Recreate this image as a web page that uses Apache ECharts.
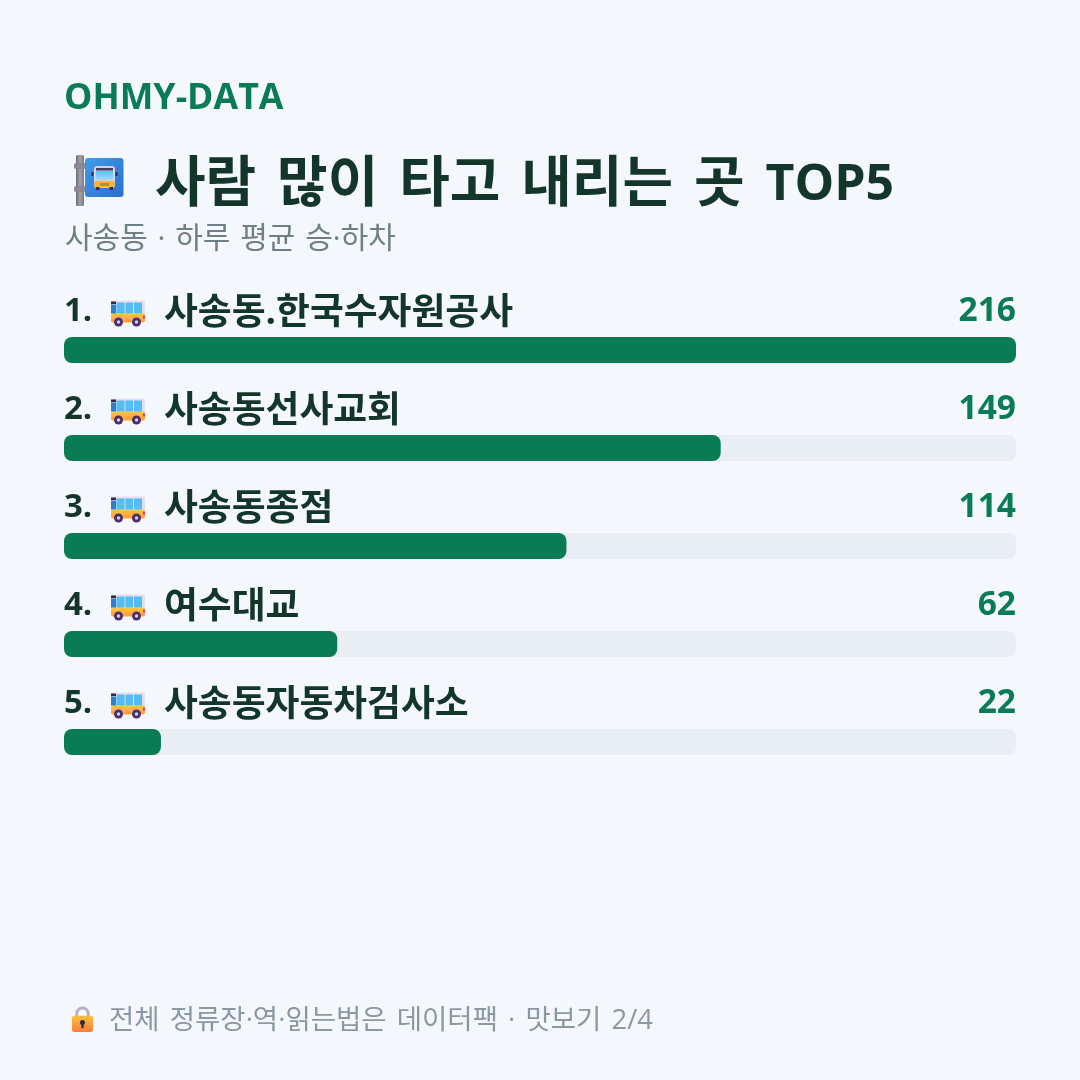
<!DOCTYPE html>
<html lang="ko">
<head>
<meta charset="utf-8">
<script src="https://cdn.jsdelivr.net/npm/echarts@6/dist/echarts.min.js"></script>
<style>
  html, body { margin: 0; padding: 0; background: #f4f7fc; }
  #chart { width: 1080px; height: 1080px; }
</style>
</head>
<body>
<div id="chart"></div>
<script>
// 사송동 정류장별 하루 평균 승·하차
const stops = ['사송동.한국수자원공사', '사송동선사교회', '사송동종점', '여수대교', '사송동자동차검사소'];
const riders = [216, 149, 114, 62, 22];
const axisMax = 216;

const brandText = 'OHMY-DATA';
const titleText = '사람 많이 타고 내리는 곳 TOP5';
const subtitleText = '사송동 · 하루 평균 승·하차';
const footerText = '전체 정류장·역·읽는법은 데이터팩 · 맛보기 2/4';

const fontFamily = '"Open Sans", "Noto Sans CJK KR", sans-serif';

const svgUri = s => 'data:image/svg+xml;charset=utf-8,' + encodeURIComponent(s);

// Splits a line at its spaces so each gap can be widened through rich-text padding
function spacedText(text, extra, tokenStyle, lastWordSize) {
  const words = text.split(' ');
  const last = Object.assign({}, tokenStyle);
  if (lastWordSize) last.fontSize = lastWordSize;
  return {
    text: words.map((w, i) => (i < words.length - 1 ? `{w|${w} }` : `{e|${w}}`)).join(''),
    rich: {
      w: Object.assign({ padding: [0, extra, 0, 0] }, tokenStyle),
      e: last
    }
  };
}

// Bus stop sign: a grey pole with a blue plate carrying a front-view bus
const stopIcon = svgUri(`<svg xmlns="http://www.w3.org/2000/svg" width="52" height="52" viewBox="0 0 52 52">
  <defs>
    <linearGradient id="p" x1="0" x2="1"><stop offset="0" stop-color="#6f6a78"/><stop offset=".5" stop-color="#a5a1ad"/><stop offset="1" stop-color="#7d7886"/></linearGradient>
    <linearGradient id="b" x1="0" x2="1" y1="0" y2="1"><stop offset="0" stop-color="#3f9cea"/><stop offset="1" stop-color="#2a6fcb"/></linearGradient>
    <linearGradient id="g" x1="0" x2="0" y1="0" y2="1"><stop offset="0" stop-color="#4fc3f7"/><stop offset="1" stop-color="#a8d8fb"/></linearGradient>
  </defs>
  <rect x="4" y="0" width="8" height="51" rx="1.5" fill="url(#p)"/>
  <rect x="2" y="8" width="12" height="6" rx="2" fill="#8b8794"/>
  <rect x="2" y="31" width="12" height="6" rx="2" fill="#8b8794"/>
  <rect x="13" y="3" width="38.5" height="39" rx="3" fill="url(#b)"/>
  <rect x="22" y="11" width="21" height="22" rx="3" fill="#d9cfe6"/>
  <rect x="24" y="13" width="17" height="2.5" fill="#4a3a5e"/>
  <rect x="24" y="16" width="17" height="9" fill="url(#g)"/>
  <rect x="22.5" y="26" width="20" height="6.5" rx="1.5" fill="#f2b632"/>
  <rect x="28" y="28" width="9" height="3" fill="#b98a3a"/>
  <rect x="24" y="32" width="3.5" height="3" fill="#3a2d4a"/>
  <rect x="37.5" y="32" width="3.5" height="3" fill="#3a2d4a"/>
  <rect x="19.5" y="17" width="2" height="4" fill="#3a2d4a"/>
  <rect x="43.5" y="17" width="2" height="4" fill="#3a2d4a"/>
</svg>`);

// Side-view bus used in every row
const busIcon = svgUri(`<svg xmlns="http://www.w3.org/2000/svg" width="36" height="30" viewBox="0 0 36 30">
  <defs>
    <linearGradient id="y" x1="0" x2="0" y1="0" y2="1"><stop offset="0" stop-color="#ffc83d"/><stop offset="1" stop-color="#ff9a3c"/></linearGradient>
  </defs>
  <path d="M3 2h30a2 2 0 0 1 2 2v12H1V4a2 2 0 0 1 2-2z" fill="#e6dcef"/>
  <rect x="1" y="15" width="34" height="9" rx="2" fill="url(#y)"/>
  <rect x="1" y="3" width="5" height="2.5" fill="#33283f"/>
  <rect x="1" y="6" width="5" height="9" fill="#2f7fd0"/>
  <rect x="6.5" y="4" width="8" height="11" fill="#55bdf6"/>
  <rect x="15.5" y="4" width="7.5" height="11" fill="#55bdf6"/>
  <rect x="24" y="4" width="8" height="11" fill="#55bdf6"/>
  <rect x="33" y="17" width="2" height="3" fill="#d6397a"/>
  <circle cx="8.5" cy="23.5" r="4.5" fill="#4a2f6d"/><circle cx="8.5" cy="23.5" r="1.7" fill="#d9cfe6"/>
  <circle cx="26.5" cy="23.5" r="4.5" fill="#4a2f6d"/><circle cx="26.5" cy="23.5" r="1.7" fill="#d9cfe6"/>
</svg>`);

// Padlock for the footer note
const lockIcon = svgUri(`<svg xmlns="http://www.w3.org/2000/svg" width="24" height="28" viewBox="0 0 24 28">
  <defs><linearGradient id="l" x1="0" x2="0" y1="0" y2="1"><stop offset="0" stop-color="#fcc13a"/><stop offset="1" stop-color="#fb7b3c"/></linearGradient></defs>
  <path d="M6 12V8a6 6 0 0 1 12 0v4" fill="none" stroke="#b9aec4" stroke-width="3"/>
  <rect x="1" y="10" width="22" height="17" rx="2.5" fill="url(#l)"/>
  <circle cx="12" cy="17" r="2.6" fill="#2c2a44"/><rect x="10.8" y="17" width="2.4" height="6" rx="1" fill="#2c2a44"/>
</svg>`);

const chart = echarts.init(document.getElementById('chart'), null, { renderer: 'canvas' });

const option = {
  backgroundColor: '#f4f7fc',
  animation: false,
  grid: { left: 64, width: 952, top: 301, height: 490 },
  xAxis: { type: 'value', min: 0, max: axisMax, show: false },
  yAxis: [
    {
      type: 'category',
      inverse: true,
      z: 5,
      data: stops,
      axisLine: { show: false },
      axisTick: { show: false },
      axisLabel: {
        inside: true,
        margin: 0,
        align: 'left',
        verticalAlign: 'middle',
        padding: [0, 0, 73, 0],
        formatter: (name, i) => `{rank|${i + 1}.}{bus|}{name|${name}}`,
        rich: {
          rank: { width: 46, padding: [0, 0, 3, 0], fontSize: 33, fontWeight: 700, color: '#14352a', fontFamily },
          bus: { width: 36, height: 30, backgroundColor: { image: busIcon } },
          name: { padding: [0, 0, 0, 18], fontSize: 36.8, fontWeight: 700, color: '#14352a', fontFamily }
        }
      }
    },
    {
      type: 'category',
      inverse: true,
      position: 'right',
      z: 5,
      data: riders.map(String),
      axisLine: { show: false },
      axisTick: { show: false },
      axisLabel: {
        inside: true,
        margin: 0,
        align: 'right',
        verticalAlign: 'middle',
        padding: [0, 0, 77, 0],
        formatter: v => `{v|${v}}`,
        rich: {
          v: { fontSize: 33.5, fontWeight: 700, color: '#0a7c55', fontFamily }
        }
      }
    }
  ],
  series: [{
    type: 'bar',
    data: riders,
    barWidth: 26,
    itemStyle: { color: '#0a7c55', borderRadius: 8 },
    showBackground: true,
    backgroundStyle: { color: '#e9edf4', borderRadius: 8 }
  }],
  graphic: [
    { type: 'text', left: 64, top: 81, style: { text: brandText, font: `700 35.7px ${fontFamily}`, fill: '#0a7c55' } },
    { type: 'image', left: 72, top: 155, style: { image: stopIcon, width: 52, height: 52 } },
    { type: 'text', left: 155, top: 158, style: spacedText(titleText, 6.6, { fontSize: 55, fontWeight: 700, fill: '#14352a', fontFamily }, 50) },
    { type: 'text', left: 65, top: 224, style: spacedText(subtitleText, 2, { fontSize: 30, fontWeight: 400, fill: '#6f7f88', fontFamily }) },
    { type: 'image', left: 71, top: 1006, style: { image: lockIcon, width: 23, height: 27 } },
    { type: 'text', left: 109, top: 1007, style: spacedText(footerText, 3, { fontSize: 27.5, fontWeight: 400, fill: '#8a98a3', fontFamily }) }
  ]
};

chart.setOption(option);
</script>
</body>
</html>
